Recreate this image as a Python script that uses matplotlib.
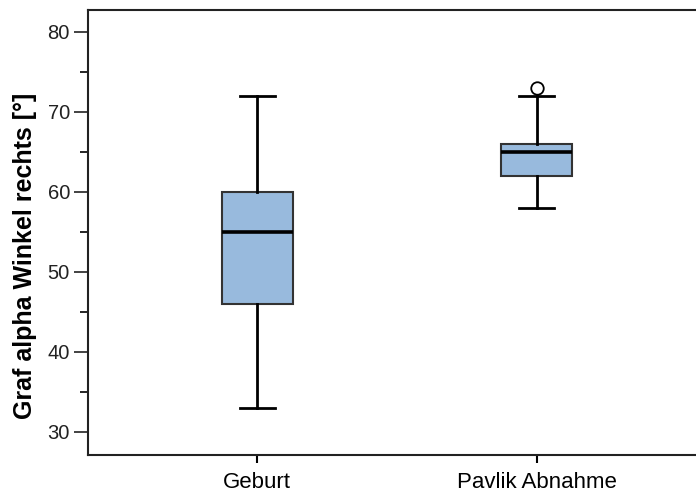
import matplotlib.pyplot as plt
from matplotlib.ticker import MultipleLocator

plt.rcParams['font.family'] = ['Liberation Sans', 'DejaVu Sans']

groups = ['Geburt', 'Pavlik Abnahme']
q1 = [46, 62]
median = [55, 65]
q3 = [60, 66]
whislo = [33, 58]
whishi = [72, 72]
outliers = [[], [73]]

stats = []
for i in range(len(groups)):
    stats.append(dict(label=groups[i], q1=q1[i], med=median[i], q3=q3[i],
                      whislo=whislo[i], whishi=whishi[i], fliers=outliers[i]))

fig = plt.figure(figsize=(6.96, 4.93), dpi=100)
ax = fig.add_axes([88/696, 38/493, 1.02 - 88/696, 445/493])

ax.bxp(stats, positions=[1, 2], widths=0.255, patch_artist=True,
       boxprops=dict(facecolor='#98badd', edgecolor='#333333', linewidth=1.5),
       medianprops=dict(color='black', linewidth=2.6),
       whiskerprops=dict(color='black', linewidth=2),
       capprops=dict(color='black', linewidth=2),
       capwidths=0.125,
       flierprops=dict(marker='o', markerfacecolor='white', markeredgecolor='black',
                       markersize=9, markeredgewidth=1.3))

ax.set_xlim(0.394, 2.62)
ax.set_ylim(27.1, 82.75)
ax.yaxis.set_major_locator(MultipleLocator(10))
ax.yaxis.set_minor_locator(MultipleLocator(5))
ax.set_yticks([30, 40, 50, 60, 70, 80])
ax.tick_params(axis='y', which='major', length=10, width=1.2, labelsize=14.5,
               colors='#222222', pad=3)
ax.tick_params(axis='y', which='minor', length=6, width=1.2)
ax.tick_params(axis='x', length=6, width=1.5, labelsize=16, pad=6)
ax.set_ylabel('Graf alpha Winkel rechts [°]', fontsize=18, fontweight='bold')
ax.yaxis.set_label_coords(-0.082, 0.447)
for s in ax.spines.values():
    s.set_linewidth(1.5)
    s.set_color('#222222')

fig.savefig('out.png', dpi=100)
